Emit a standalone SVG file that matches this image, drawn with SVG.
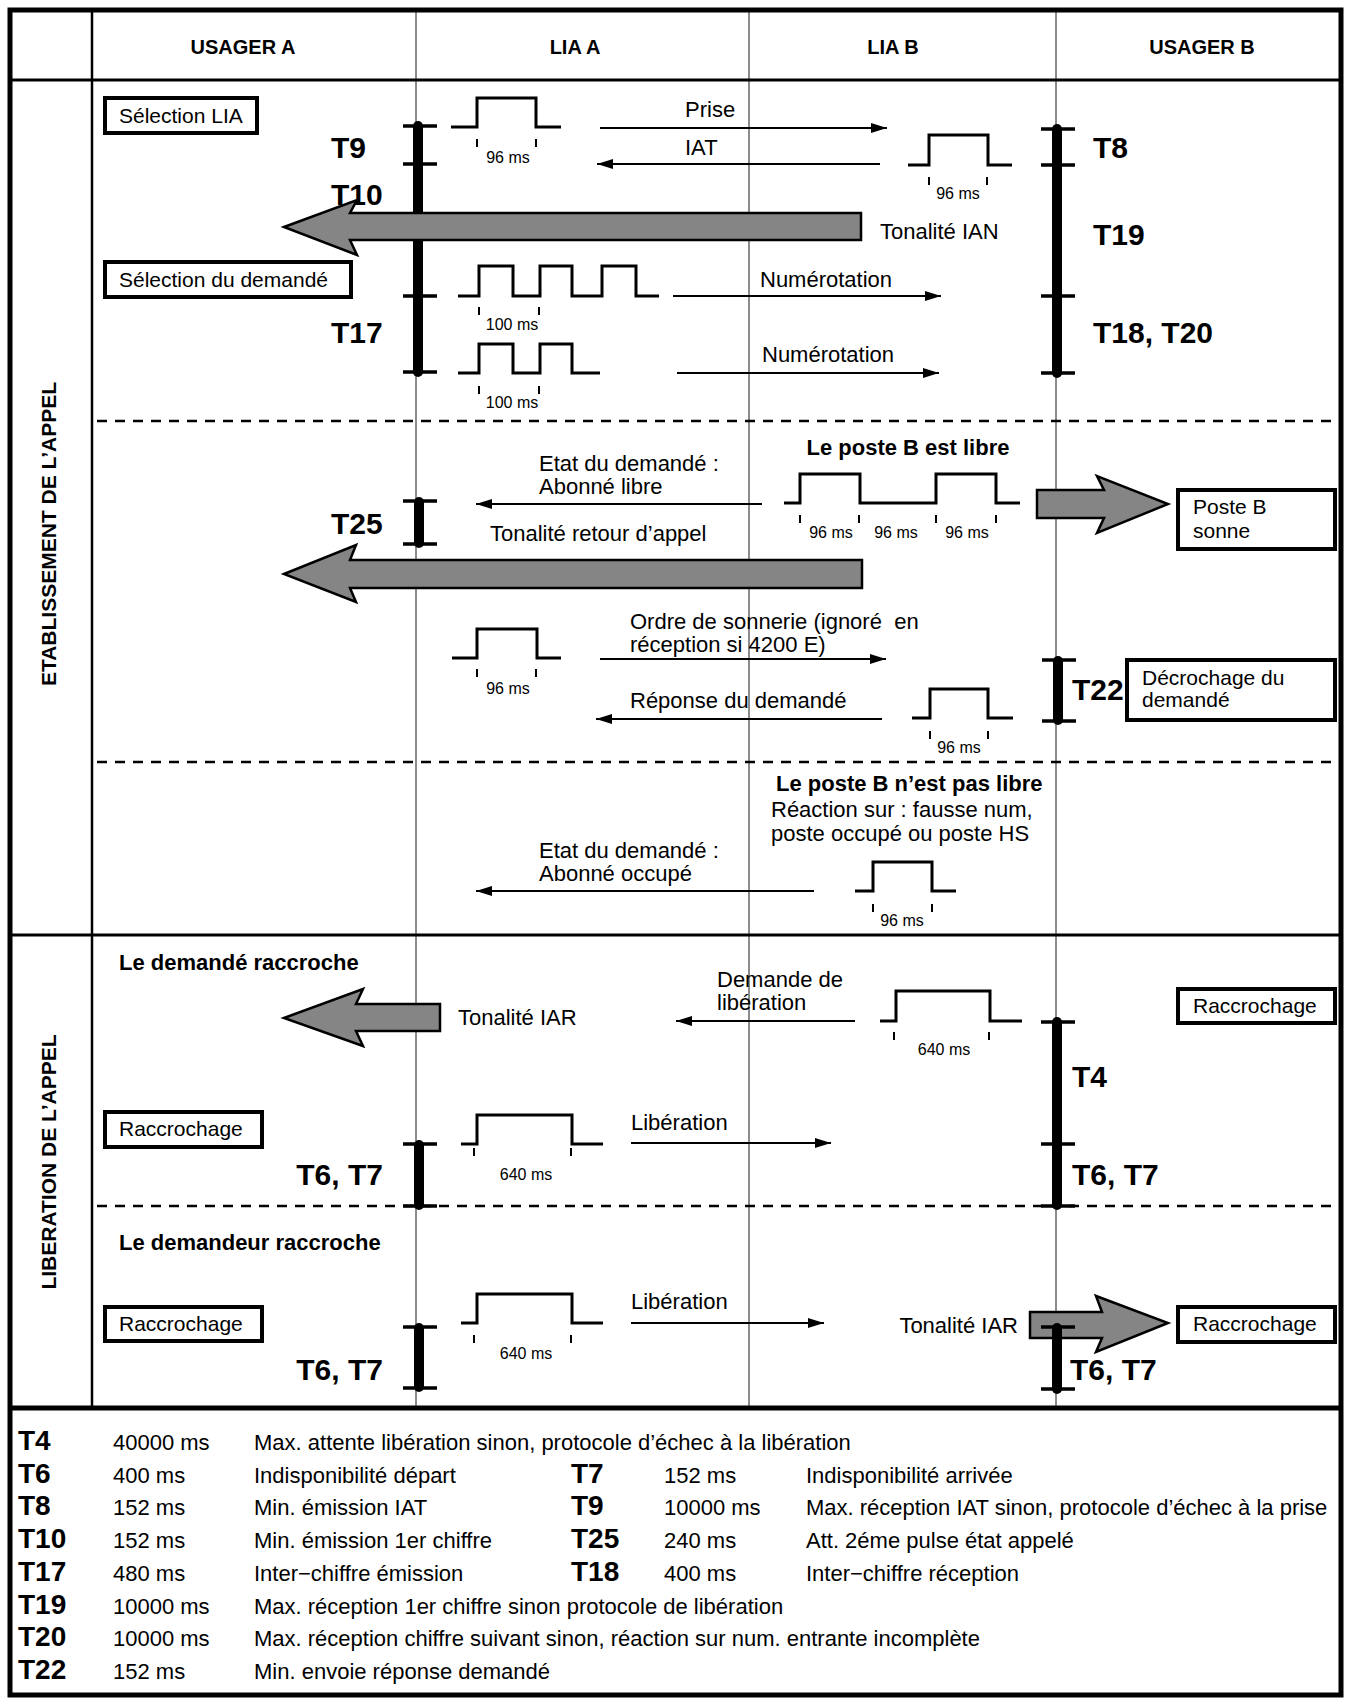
<svg xmlns="http://www.w3.org/2000/svg" width="1348" height="1698" viewBox="0 0 1348 1698">
<defs>
<marker id="ah" viewBox="0 0 16 10" refX="16" refY="5" markerWidth="16" markerHeight="10" markerUnits="userSpaceOnUse" orient="auto"><path d="M0,0 L16,5 L0,10 z" fill="#000"/></marker>
<style>
text{font-family:"Liberation Sans",Arial,sans-serif;fill:#000}
.lane{stroke:#8c8c8c;stroke-width:2}
.ln{stroke:#000;fill:none}
.dash{stroke:#000;stroke-width:2.5;stroke-dasharray:10 8}
.pulse{fill:none;stroke:#000;stroke-width:3}
.tick{stroke:#000;stroke-width:2;fill:none}
.msg{stroke:#000;stroke-width:2;fill:none;marker-end:url(#ah)}
.bar{stroke:#000;stroke-width:10;stroke-linecap:round;fill:none}
.btick{stroke:#000;stroke-width:3.5;fill:none}
.big{fill:#858585;stroke:#000;stroke-width:2.5}
.box{fill:#fff;stroke:#000;stroke-width:4}
.t{font-size:22px}
.b{font-size:22px;font-weight:bold}
.h{font-size:20px;font-weight:bold;text-anchor:middle}
.tm{font-size:30px;font-weight:bold}
.ms{font-size:16px;text-anchor:middle}
.bx{font-size:21px}
.tb{font-size:22px}
.tl{font-size:28px;font-weight:bold}
.v{font-size:21px;font-weight:bold;text-anchor:middle}
</style>
</defs>
<rect width="1348" height="1698" fill="#fff"/>

<g id="frame">
<line class="lane" x1="416" y1="10" x2="416" y2="1408"/>
<line class="lane" x1="749" y1="10" x2="749" y2="1408"/>
<line class="lane" x1="1056" y1="10" x2="1056" y2="1408"/>
<line class="ln" x1="92" y1="10" x2="92" y2="1408" stroke-width="2.5"/>
<line class="ln" x1="10" y1="80" x2="1341" y2="80" stroke-width="3"/>
<line class="ln" x1="10" y1="935" x2="1341" y2="935" stroke-width="3"/>
<line class="ln" x1="10" y1="1408" x2="1341" y2="1408" stroke-width="5"/>
<line class="dash" x1="97" y1="421" x2="1341" y2="421"/>
<line class="dash" x1="97" y1="762" x2="1341" y2="762"/>
<line class="dash" x1="97" y1="1206" x2="1341" y2="1206"/>
<rect class="ln" x="10" y="10" width="1331" height="1685" stroke-width="5"/>
</g>

<g id="headers">
<text class="h" x="243" y="54">USAGER A</text>
<text class="h" x="575" y="54">LIA A</text>
<text class="h" x="893" y="54">LIA B</text>
<text class="h" x="1202" y="54">USAGER B</text>
<text class="v" transform="translate(56,534) rotate(-90)">ETABLISSEMENT DE L’APPEL</text>
<text class="v" transform="translate(56,1162) rotate(-90)">LIBERATION DE L’APPEL</text>
</g>

<g id="timer-lia-a-1">
<line class="bar" x1="418" y1="126" x2="418" y2="372"/>
<path class="btick" d="M403,126H437M403,164H437M403,296H437M403,372H437"/>
<text class="tm" x="331" y="158">T9</text>
<text class="tm" x="331" y="205">T10</text>
<text class="tm" x="331" y="343">T17</text>
</g>
<g id="timer-usager-b-1">
<line class="bar" x1="1057" y1="129" x2="1057" y2="373"/>
<path class="btick" d="M1041,129H1075M1041,165H1075M1041,296H1075M1041,373H1075"/>
<text class="tm" x="1093" y="158">T8</text>
<text class="tm" x="1093" y="245">T19</text>
<text class="tm" x="1093" y="343">T18, T20</text>
</g>
<g id="timer-t25">
<line class="bar" x1="419" y1="502" x2="419" y2="543"/>
<path class="btick" d="M403,501H437M403,544H437"/>
<text class="tm" x="331" y="534">T25</text>
</g>
<g id="timer-t22">
<line class="bar" x1="1058" y1="661" x2="1058" y2="720"/>
<path class="btick" d="M1042,660H1076M1042,721H1076"/>
<text class="tm" x="1072" y="700">T22</text>
</g>
<g id="timer-t4">
<line class="bar" x1="1057" y1="1022" x2="1057" y2="1205"/>
<path class="btick" d="M1041,1022H1075M1041,1144H1075M1041,1206H1075"/>
<text class="tm" x="1072" y="1087">T4</text>
<text class="tm" x="1072" y="1185">T6, T7</text>
</g>
<g id="timer-t6t7-a1">
<line class="bar" x1="419" y1="1145" x2="419" y2="1205"/>
<path class="btick" d="M403,1144H437M403,1206H437"/>
<text class="tm" x="383" y="1185" text-anchor="end">T6, T7</text>
</g>
<g id="timer-t6t7-a2">
<line class="bar" x1="419" y1="1328" x2="419" y2="1387"/>
<path class="btick" d="M403,1327H437M403,1388H437"/>
<text class="tm" x="383" y="1380" text-anchor="end">T6, T7</text>
</g>

<g id="boxes">
<g id="box-selection-lia"><rect class="box" x="105" y="98" width="152" height="35"/><text class="bx" x="119" y="123">Sélection LIA</text></g>
<g id="box-selection-demande"><rect class="box" x="105" y="262" width="246" height="35"/><text class="bx" x="119" y="287">Sélection du demandé</text></g>
<g id="box-poste-b-sonne"><rect class="box" x="1178" y="490" width="157" height="59"/><text class="bx" x="1193" y="514">Poste B</text><text class="bx" x="1193" y="538">sonne</text></g>
<g id="box-decrochage"><rect class="box" x="1127" y="660" width="208" height="60"/><text class="bx" x="1142" y="685">Décrochage du</text><text class="bx" x="1142" y="707">demandé</text></g>
<g id="box-raccrochage-b1"><rect class="box" x="1178" y="989" width="157" height="34"/><text class="bx" x="1193" y="1013">Raccrochage</text></g>
<g id="box-raccrochage-a1"><rect class="box" x="105" y="1112" width="157" height="35"/><text class="bx" x="119" y="1136">Raccrochage</text></g>
<g id="box-raccrochage-a2"><rect class="box" x="105" y="1307" width="157" height="34"/><text class="bx" x="119" y="1331">Raccrochage</text></g>
<g id="box-raccrochage-b2"><rect class="box" x="1178" y="1307" width="157" height="35"/><text class="bx" x="1193" y="1331">Raccrochage</text></g>
</g>

<g id="pulses">
<g id="pulse-prise"><path class="pulse" d="M451,127H477V98H536V127H561"/><path class="tick" d="M477,139V147M536,139V147"/><text class="ms" x="508" y="163">96 ms</text></g>
<g id="pulse-iat"><path class="pulse" d="M908,165H929V135H988V165H1012"/><path class="tick" d="M929,177V185M987,177V185"/><text class="ms" x="958" y="199">96 ms</text></g>
<g id="pulse-num1"><path class="pulse" d="M458,296H479V266H513V296H540V266H572V296H602V266H636V296H659"/><path class="tick" d="M479,307V315M539,307V315"/><text class="ms" x="512" y="330">100 ms</text></g>
<g id="pulse-num2"><path class="pulse" d="M458,373H479V344H513V373H540V344H572V373H600"/><path class="tick" d="M479,386V394M539,386V394"/><text class="ms" x="512" y="408">100 ms</text></g>
<g id="pulse-libre"><path class="pulse" d="M784,503H800V474H860V503H936V474H996V503H1020"/><path class="tick" d="M800,515V523M859,515V523M936,515V523M996,515V523"/><text class="ms" x="831" y="538">96 ms</text><text class="ms" x="896" y="538">96 ms</text><text class="ms" x="967" y="538">96 ms</text></g>
<g id="pulse-ordre"><path class="pulse" d="M452,658H477V629H537V658H561"/><path class="tick" d="M477,669V677M536,669V677"/><text class="ms" x="508" y="694">96 ms</text></g>
<g id="pulse-reponse"><path class="pulse" d="M912,718H930V689H988V718H1013"/><path class="tick" d="M930,731V739M988,731V739"/><text class="ms" x="959" y="753">96 ms</text></g>
<g id="pulse-occupe"><path class="pulse" d="M855,891H873V862H932V891H956"/><path class="tick" d="M873,904V912M932,904V912"/><text class="ms" x="902" y="926">96 ms</text></g>
<g id="pulse-demande-lib"><path class="pulse" d="M880,1021H896V991H990V1021H1022"/><path class="tick" d="M894,1032V1040M989,1032V1040"/><text class="ms" x="944" y="1055">640 ms</text></g>
<g id="pulse-lib1"><path class="pulse" d="M461,1144H477V1115H572V1144H603"/><path class="tick" d="M474,1148V1156M571,1148V1156"/><text class="ms" x="526" y="1180">640 ms</text></g>
<g id="pulse-lib2"><path class="pulse" d="M461,1323H477V1294H572V1323H603"/><path class="tick" d="M474,1335V1343M571,1335V1343"/><text class="ms" x="526" y="1359">640 ms</text></g>
</g>

<g id="connectors">
<line class="msg" x1="600" y1="128" x2="887" y2="128"/>
<line class="msg" x1="880" y1="164" x2="597" y2="164"/>
<line class="msg" x1="673" y1="296" x2="941" y2="296"/>
<line class="msg" x1="677" y1="373" x2="939" y2="373"/>
<line class="msg" x1="762" y1="504" x2="476" y2="504"/>
<line class="msg" x1="600" y1="659" x2="886" y2="659"/>
<line class="msg" x1="882" y1="719" x2="596" y2="719"/>
<line class="msg" x1="814" y1="891" x2="476" y2="891"/>
<line class="msg" x1="855" y1="1021" x2="676" y2="1021"/>
<line class="msg" x1="631" y1="1143" x2="831" y2="1143"/>
<line class="msg" x1="631" y1="1323" x2="824" y2="1323"/>
<polygon id="arrow-ian" class="big" points="284,227 357,200 350,213 861,213 861,240 350,240 357,255"/>
<polygon id="arrow-retour" class="big" points="284,574 356,545 350,560 862,560 862,588 350,588 356,602"/>
<polygon id="arrow-sonne" class="big" points="1037,490 1104,490 1097,476 1168,504 1097,533 1104,518 1037,518"/>
<polygon id="arrow-iar-a" class="big" points="284,1018 363,989 356,1004 440,1004 440,1031 356,1031 363,1046"/>
<polygon id="arrow-iar-b" class="big" points="1030,1312 1102,1312 1096,1296 1168,1323 1096,1352 1102,1338 1030,1338"/>
</g>

<g id="timer-t6t7-b2">
<line class="bar" x1="1057" y1="1328" x2="1057" y2="1389"/>
<path class="btick" d="M1041,1327H1075M1041,1389H1075"/>
<text class="tm" x="1070" y="1380">T6, T7</text>
</g>

<g id="labels">
<text class="t" x="685" y="117">Prise</text>
<text class="t" x="685" y="155">IAT</text>
<text class="t" x="880" y="239">Tonalité IAN</text>
<text class="t" x="760" y="287">Numérotation</text>
<text class="t" x="762" y="362">Numérotation</text>
<text class="b" x="908" y="455" text-anchor="middle">Le poste B est libre</text>
<text class="t" x="539" y="471">Etat du demandé :</text>
<text class="t" x="539" y="494">Abonné libre</text>
<text class="t" x="490" y="541">Tonalité retour d’appel</text>
<text class="t" x="630" y="629" style="white-space:pre">Ordre de sonnerie (ignoré  en</text>
<text class="t" x="630" y="652">réception si 4200 E)</text>
<text class="t" x="630" y="708">Réponse du demandé</text>
<text class="b" x="776" y="791">Le poste B n’est pas libre</text>
<text class="t" x="771" y="817">Réaction sur : fausse num,</text>
<text class="t" x="771" y="841">poste occupé ou poste HS</text>
<text class="t" x="539" y="858">Etat du demandé :</text>
<text class="t" x="539" y="881">Abonné occupé</text>
<text class="b" x="119" y="970">Le demandé raccroche</text>
<text class="t" x="458" y="1025">Tonalité IAR</text>
<text class="t" x="717" y="987">Demande de</text>
<text class="t" x="717" y="1010">libération</text>
<text class="t" x="631" y="1130">Libération</text>
<text class="b" x="119" y="1250">Le demandeur raccroche</text>
<text class="t" x="631" y="1309">Libération</text>
<text class="t" x="1018" y="1333" text-anchor="end">Tonalité IAR</text>
</g>

<g id="legend">
<text class="tl" x="18" y="1450">T4</text><text class="tb" x="113" y="1450">40000 ms</text><text class="tb" x="254" y="1450">Max. attente libération sinon, protocole d’échec à la libération</text>
<text class="tl" x="18" y="1483">T6</text><text class="tb" x="113" y="1483">400 ms</text><text class="tb" x="254" y="1483">Indisponibilité départ</text>
<text class="tl" x="571" y="1483">T7</text><text class="tb" x="664" y="1483">152 ms</text><text class="tb" x="806" y="1483">Indisponibilité arrivée</text>
<text class="tl" x="18" y="1515">T8</text><text class="tb" x="113" y="1515">152 ms</text><text class="tb" x="254" y="1515">Min. émission IAT</text>
<text class="tl" x="571" y="1515">T9</text><text class="tb" x="664" y="1515">10000 ms</text><text class="tb" x="806" y="1515">Max. réception IAT sinon, protocole d’échec à la prise</text>
<text class="tl" x="18" y="1548">T10</text><text class="tb" x="113" y="1548">152 ms</text><text class="tb" x="254" y="1548">Min. émission 1er chiffre</text>
<text class="tl" x="571" y="1548">T25</text><text class="tb" x="664" y="1548">240 ms</text><text class="tb" x="806" y="1548">Att. 2éme pulse état appelé</text>
<text class="tl" x="18" y="1581">T17</text><text class="tb" x="113" y="1581">480 ms</text><text class="tb" x="254" y="1581">Inter−chiffre émission</text>
<text class="tl" x="571" y="1581">T18</text><text class="tb" x="664" y="1581">400 ms</text><text class="tb" x="806" y="1581">Inter−chiffre réception</text>
<text class="tl" x="18" y="1614">T19</text><text class="tb" x="113" y="1614">10000 ms</text><text class="tb" x="254" y="1614">Max. réception 1er chiffre sinon protocole de libération</text>
<text class="tl" x="18" y="1646">T20</text><text class="tb" x="113" y="1646">10000 ms</text><text class="tb" x="254" y="1646">Max. réception chiffre suivant sinon, réaction sur num. entrante incomplète</text>
<text class="tl" x="18" y="1679">T22</text><text class="tb" x="113" y="1679">152 ms</text><text class="tb" x="254" y="1679">Min. envoie réponse demandé</text>
</g>
</svg>
